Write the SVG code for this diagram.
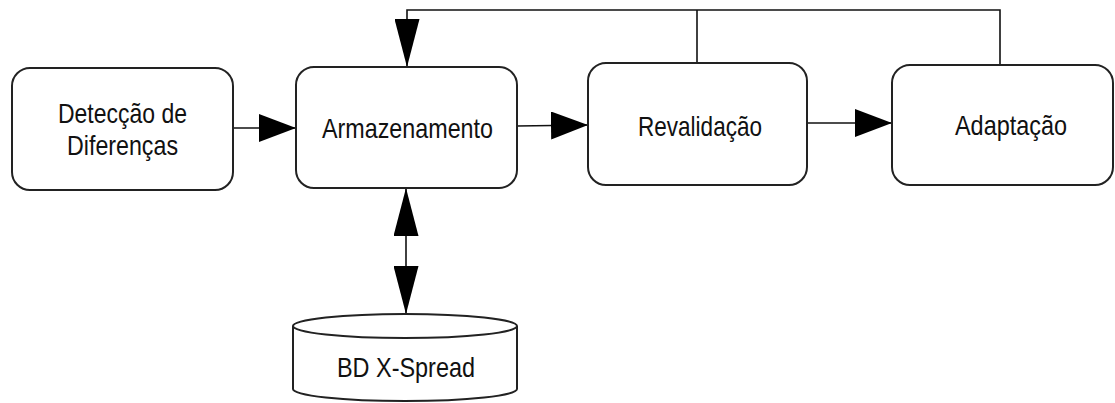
<svg xmlns="http://www.w3.org/2000/svg" width="1115" height="403" viewBox="0 0 1115 403">
  <defs>
    <style>
      .box { fill: #fff; stroke: #222; stroke-width: 2; }
      .db { fill: #fff; stroke: #222; stroke-width: 2; }
      .wire { fill: none; stroke: #111; stroke-width: 1.6; }
      .lbl { font-family: "Liberation Sans", Arial, sans-serif; font-size: 28px; fill: #111; text-anchor: middle; }
    </style>
    <!-- horizontal flow heads -->
    <marker id="headH" markerUnits="userSpaceOnUse" markerWidth="37" markerHeight="28" viewBox="0 0 37 28" refX="37" refY="14" orient="auto-start-reverse">
      <path d="M0,0 L37,14 L0,28 z" fill="#000"/>
    </marker>
    <!-- vertical flow heads (longer, narrower) -->
    <marker id="headV" markerUnits="userSpaceOnUse" markerWidth="48" markerHeight="25" viewBox="0 0 48 25" refX="48" refY="12.5" orient="auto-start-reverse">
      <path d="M0,0 L48,12.5 L0,25 z" fill="#000"/>
    </marker>
  </defs>

  <rect width="1115" height="403" fill="#fff"/>

  <g id="connectors">
    <line class="wire" x1="233" y1="128" x2="296" y2="128" marker-end="url(#headH)"/>
    <line class="wire" x1="517" y1="126" x2="588" y2="125" marker-end="url(#headH)"/>
    <line class="wire" x1="807" y1="123" x2="892" y2="123" marker-end="url(#headH)"/>
    <!-- feedback loop from Revalidação / Adaptação back to Armazenamento -->
    <polyline class="wire" points="1000,65 1000,10 407,10 407,67" marker-end="url(#headV)"/>
    <line class="wire" x1="697" y1="63" x2="697" y2="10"/>
    <!-- storage <-> database -->
    <line class="wire" x1="406" y1="188" x2="406" y2="314" marker-start="url(#headV)" marker-end="url(#headV)"/>
  </g>

  <g id="deteccao">
    <rect class="box" x="12" y="68" width="221" height="122" rx="18" ry="18"/>
    <text class="lbl" x="122.5" y="123" textLength="129" lengthAdjust="spacingAndGlyphs">Detecção de</text>
    <text class="lbl" x="122.5" y="155" textLength="111" lengthAdjust="spacingAndGlyphs">Diferenças</text>
  </g>

  <g id="armazenamento">
    <rect class="box" x="296" y="67" width="221" height="121" rx="18" ry="18"/>
    <text class="lbl" x="407.5" y="138" textLength="171" lengthAdjust="spacingAndGlyphs">Armazenamento</text>
  </g>

  <g id="revalidacao">
    <rect class="box" x="588" y="63" width="219" height="122" rx="18" ry="18"/>
    <text class="lbl" x="700" y="136" textLength="124" lengthAdjust="spacingAndGlyphs">Revalidação</text>
  </g>

  <g id="adaptacao">
    <rect class="box" x="892" y="65" width="221" height="120" rx="18" ry="18"/>
    <text class="lbl" x="1011" y="135" textLength="112" lengthAdjust="spacingAndGlyphs">Adaptação</text>
  </g>

  <g id="bd-xspread">
    <path class="db" d="M293,326 L293,389 A112,12 0 0 0 517,389 L517,326"/>
    <ellipse class="db" cx="405" cy="326" rx="112" ry="12"/>
    <text class="lbl" x="406" y="377" textLength="138" lengthAdjust="spacingAndGlyphs">BD X-Spread</text>
  </g>
</svg>
